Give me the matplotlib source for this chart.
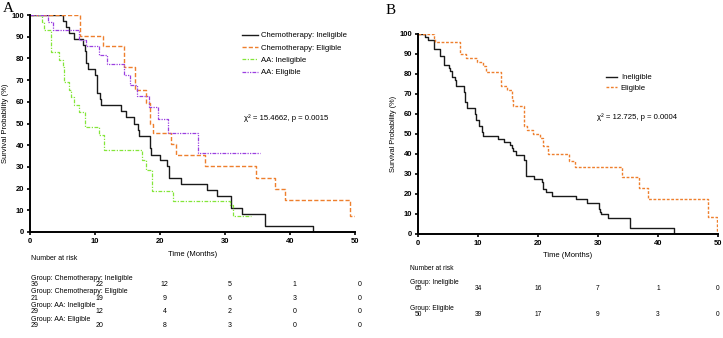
import matplotlib
matplotlib.use("Agg")
import matplotlib.pyplot as plt
from matplotlib.transforms import blended_transform_factory

W, H = 723, 338
plt.rcParams['font.family'] = ['Liberation Sans', 'DejaVu Sans']

# ---- panel A data (months, survival %) ----
chemo_inel_t = [0, 5.1, 5.5, 6.0, 6.8, 8.1, 8.4, 8.6, 8.9, 10.0, 10.3, 10.7, 10.9, 14.0, 14.8, 16.0,
                16.6, 16.8, 18.4, 18.6, 20.0, 21.1, 21.4, 23.2, 27.2, 28.8, 30.9, 32.6, 36.2, 43.5]
chemo_inel_s = [100, 97.2, 94.4, 91.7, 88.9, 86.1, 83.3, 77.8, 75.0, 72.2, 63.9, 61.1, 58.3, 55.6, 52.8, 50.0,
                47.2, 44.4, 38.9, 35.5, 33.3, 30.6, 24.7, 22.2, 19.4, 16.7, 11.1, 8.3, 2.8, 0]
chemo_el_t = [0, 7.7, 11.3, 14.4, 16.2, 17.9, 18.4, 18.9, 21.7, 22.4, 26.9, 34.7, 37.7, 39.2, 49.3, 50.4]
chemo_el_s = [100, 90.5, 85.7, 76.2, 65.4, 59.5, 50.0, 45.5, 40.5, 35.3, 30.2, 24.8, 19.9, 14.9, 7.2, 7.2]
aa_inel_t = [0, 1.9, 2.2, 3.2, 4.4, 5.0, 5.3, 6.0, 6.3, 6.7, 7.5, 8.4, 10.6, 11.4, 17.2, 17.9, 18.8,
             22.0, 30.7, 31.3, 34.0]
aa_inel_s = [100, 96.6, 93.1, 82.8, 79.3, 75.9, 69.0, 65.5, 62.1, 58.6, 55.2, 48.3, 44.8, 37.6, 33.0, 28.6, 19.0,
             14.3, 12.4, 7.4, 7.4]
aa_el_t = [0, 2.8, 3.5, 7.6, 8.6, 10.6, 11.9, 14.4, 15.4, 16.5, 18.3, 19.7, 21.2, 25.8, 35.4]
aa_el_s = [100, 96.6, 93.1, 88.5, 85.7, 81.6, 77.5, 72.4, 67.7, 62.5, 57.6, 52.2, 45.5, 36.3, 36.3]

# ---- panel B data ----
inel_t = [0, 1.2, 1.6, 2.7, 3.7, 4.3, 5.1, 5.3, 5.6, 6.2, 6.4, 7.6, 7.8, 8.1, 9.5, 9.7, 10.2, 10.6, 10.9,
          13.4, 14.3, 15.3, 15.6, 15.9, 16.4, 17.6, 18.0, 19.4, 20.6, 20.8, 21.3, 22.4, 26.4, 28.1, 30.1,
          30.3, 30.5, 31.7, 35.4, 42.6]
inel_s = [100, 98.5, 96.9, 92.3, 89.2, 84.6, 83.1, 81.5, 78.5, 76.9, 73.8, 70.8, 66.2, 63.1, 60.0, 56.9, 53.8,
          50.8, 49.2, 47.7, 46.2, 44.6, 43.1, 41.5, 39.5, 36.9, 29.2, 27.7, 26.2, 22.3, 20.8, 19.0, 17.3, 15.7,
          12.3, 11.2, 10.0, 7.8, 2.8, 0]
el_t = [0, 2.6, 2.8, 7.0, 8.0, 9.9, 10.9, 11.3, 13.8, 14.8, 15.6, 15.9, 17.6, 18.1, 19.2, 20.3, 20.9, 21.7,
        25.1, 26.2, 34.0, 36.8, 38.4, 48.4, 49.8]
el_s = [100, 98, 96, 90, 88, 86, 84, 81, 74, 72, 67, 64, 54, 52, 50, 48, 44, 40, 36.7, 33.3, 28.7, 22.8,
        17.3, 8.7, 0]

ticks_x = [0, 10, 20, 30, 40, 50]
risk_a = {
    "Group: Chemotherapy: Ineligible": [36, 22, 12, 5, 1, 0],
    "Group: Chemotherapy: Eligible": [21, 19, 9, 6, 3, 0],
    "Group: AA: Ineligible": [29, 12, 4, 2, 0, 0],
    "Group: AA: Eligible": [29, 20, 8, 3, 0, 0],
}
risk_b = {
    "Group: Ineligible": [65, 34, 16, 7, 1, 0],
    "Group: Eligible": [50, 39, 17, 9, 3, 0],
}

c_black = '#1a1a1a'
c_orange = '#ee7f2d'
c_green = '#84e63a'
c_purple = '#9b3fe0'


def fx(px):
    return px / W


def fy(py):
    return 1 - py / H


def style_axis(ax, fs):
    ax.set_xlim(0, 50)
    ax.set_ylim(0, 100)
    ax.set_xticks(ticks_x)
    ax.set_yticks(range(0, 101, 10))
    for s in ['top', 'right']:
        ax.spines[s].set_visible(False)
    for s in ['left', 'bottom']:
        ax.spines[s].set_linewidth(1.4)
    ax.tick_params(length=2.5, width=1.2, pad=1.5, labelsize=fs)
    for lab in ax.get_xticklabels() + ax.get_yticklabels():
        lab.set_fontweight('bold')
    ax.patch.set_alpha(0)


fig = plt.figure(figsize=(W / 100, H / 100), dpi=100)

# ================= panel A =================
axA = fig.add_axes([fx(30), fy(232), (355 - 30) / W, (232 - 15) / H])
axA.step(chemo_inel_t, chemo_inel_s, where='post', color=c_black, lw=1.0, label='Chemotherapy: Ineligible')
axA.step(chemo_el_t, chemo_el_s, where='post', color=c_orange, lw=1.0, dashes=(3, 1.5),
         label='Chemotherapy: Eligible')
axA.step(aa_inel_t, aa_inel_s, where='post', color=c_green, lw=0.9, dashes=(3, 1.2, 1, 1.2),
         label='AA: Ineligible')
axA.step(aa_el_t, aa_el_s, where='post', color=c_purple, lw=0.9, dashes=(3, 1, 1, 1, 1, 1),
         label='AA: Eligible')
style_axis(axA, 5.5)
axA.set_ylabel('Survival Probability (%)', fontsize=5.5, labelpad=2)
axA.set_xlabel('Time (Months)', fontsize=5.5, labelpad=5)
axA.legend(loc='upper left', bbox_to_anchor=(fx(242), fy(32)), bbox_transform=fig.transFigure,
           frameon=False, fontsize=5.6, handlelength=2.0, handletextpad=0.4, labelspacing=0.62,
           borderpad=0, borderaxespad=0)
fig.text(fx(244), fy(118), 'χ² = 15.4662, p = 0.0015', fontsize=5.6, va='center', ha='left')
fig.text(fx(3), fy(9), 'A', fontsize=11, family='Liberation Serif', va='center', ha='left')

trA = blended_transform_factory(axA.transData, fig.transFigure)
fig.text(fx(31), fy(259), 'Number at risk', fontsize=5, va='center')
row_y = 278
for name, vals in risk_a.items():
    fig.text(fx(31), fy(row_y), name, fontsize=5, va='center')
    for t, v in zip(ticks_x, vals):
        fig.text(t + 0.7, fy(row_y + 6.2), str(v), fontsize=5, va='center', ha='center', transform=trA)
    row_y += 13.9

# ================= panel B =================
axB = fig.add_axes([fx(418), fy(234), 300 / W, 200 / H])
axB.step(inel_t, inel_s, where='post', color=c_black, lw=1.0, label='Ineligible')
axB.step(el_t, el_s, where='post', color=c_orange, lw=1.0, dashes=(2, 1.2), label='Eligible')
style_axis(axB, 5.5)
axB.set_ylabel('Survival Probability (%)', fontsize=5.3, labelpad=2)
axB.set_xlabel('Time (Months)', fontsize=5.5, labelpad=4)
axB.legend(loc='upper left', bbox_to_anchor=(fx(606), fy(74)), bbox_transform=fig.transFigure,
           frameon=False, fontsize=5.6, handlelength=1.4, handletextpad=0.5, labelspacing=0.35,
           borderpad=0, borderaxespad=0)
fig.text(fx(597), fy(117), 'χ² = 12.725, p = 0.0004', fontsize=5.6, va='center', ha='left')
fig.text(fx(386), fy(10), 'B', fontsize=11, family='Liberation Serif', va='center', ha='left')

trB = blended_transform_factory(axB.transData, fig.transFigure)
fig.text(fx(410), fy(269), 'Number at risk', fontsize=4.8, va='center')
row_y = 283
for name, vals in risk_b.items():
    fig.text(fx(410), fy(row_y), name, fontsize=4.8, va='center')
    for t, v in zip(ticks_x, vals):
        fig.text(t, fy(row_y + 5.8), str(v), fontsize=4.8, va='center', ha='center', transform=trB)
    row_y += 25.5

fig.savefig('out.png', dpi=100)
